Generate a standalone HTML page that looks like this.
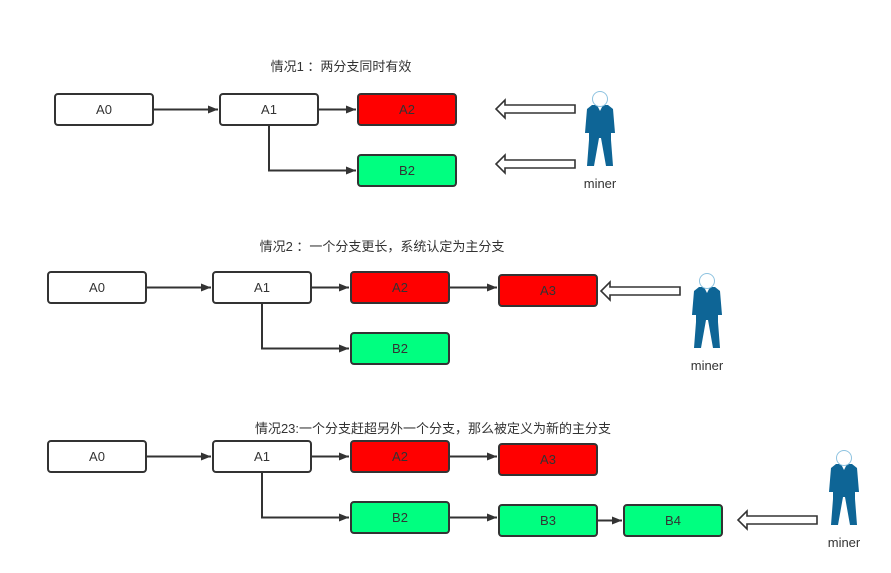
<!DOCTYPE html>
<html><head><meta charset="utf-8"><style>
body{margin:0;background:#fff}
text{font-family:"Liberation Sans","Noto Sans CJK SC",sans-serif;font-size:13px;fill:#333}
</style></head><body>
<svg width="891" height="568" xmlns="http://www.w3.org/2000/svg">
<defs>
<marker id="ar" markerWidth="10" markerHeight="8" refX="10" refY="4" orient="auto" markerUnits="userSpaceOnUse"><path d="M0,0 L10,4 L0,8 Z" fill="#333"/></marker>
<g id="miner"><path d="M-8,0 L-3,0 L0,6 L3,0 L8,0 L13,4 L15,28 L11,28 L11,35 L13,61 L6,61 L1,33 L-1,33 L-6,61 L-13,61 L-11,35 L-11,28 L-15,28 L-13,4 Z" fill="#0e6596"/><circle cx="0" cy="-6" r="7.5" fill="#fff" stroke="#8ec3e0" stroke-width="1"/></g>
<g id="hol"><path d="M0,-4 L-70,-4 L-70,-9 L-79,0 L-70,9 L-70,4 L0,4 Z" fill="#fff" stroke="#333" stroke-width="1.6"/></g>
</defs>
<g stroke="#333" stroke-width="2">
<!-- section 1 -->
<rect x="55" y="94" width="98" height="31" rx="3" fill="#fff"/>
<rect x="220" y="94" width="98" height="31" rx="3" fill="#fff"/>
<rect x="358" y="94" width="98" height="31" rx="3" fill="#ff0000"/>
<rect x="358" y="155" width="98" height="31" rx="3" fill="#00ff80"/>
<!-- section 2 -->
<rect x="48" y="272" width="98" height="31" rx="3" fill="#fff"/>
<rect x="213" y="272" width="98" height="31" rx="3" fill="#fff"/>
<rect x="351" y="272" width="98" height="31" rx="3" fill="#ff0000"/>
<rect x="499" y="275" width="98" height="31" rx="3" fill="#ff0000"/>
<rect x="351" y="333" width="98" height="31" rx="3" fill="#00ff80"/>
<!-- section 3 -->
<rect x="48" y="441" width="98" height="31" rx="3" fill="#fff"/>
<rect x="213" y="441" width="98" height="31" rx="3" fill="#fff"/>
<rect x="351" y="441" width="98" height="31" rx="3" fill="#ff0000"/>
<rect x="499" y="444" width="98" height="31" rx="3" fill="#ff0000"/>
<rect x="351" y="502" width="98" height="31" rx="3" fill="#00ff80"/>
<rect x="499" y="505" width="98" height="31" rx="3" fill="#00ff80"/>
<rect x="624" y="505" width="98" height="31" rx="3" fill="#00ff80"/>
</g>
<g stroke="#333" stroke-width="2" fill="none" marker-end="url(#ar)">
<path d="M153,109.5 H218"/><path d="M318,109.5 H356"/><path d="M269,125 V170.5 H356"/>
<path d="M146,287.5 H211"/><path d="M311,287.5 H349"/><path d="M449,287.5 H497"/><path d="M262,303 V348.5 H349"/>
<path d="M146,456.5 H211"/><path d="M311,456.5 H349"/><path d="M449,456.5 H497"/><path d="M262,472 V517.5 H349"/><path d="M449,517.5 H497"/><path d="M597,520.5 H622"/>
</g>
<use href="#hol" x="575" y="109"/><use href="#hol" x="575" y="164"/>
<use href="#hol" x="680" y="291"/><use href="#hol" x="817" y="520"/>
<use href="#miner" x="600" y="105"/><use href="#miner" x="707" y="287"/><use href="#miner" x="844" y="464"/>
<g text-anchor="middle">
<text x="104" y="114">A0</text><text x="269" y="114">A1</text><text x="407" y="114">A2</text><text x="407" y="175">B2</text>
<text x="97" y="292">A0</text><text x="262" y="292">A1</text><text x="400" y="292">A2</text><text x="548" y="295">A3</text><text x="400" y="353">B2</text>
<text x="97" y="461">A0</text><text x="262" y="461">A1</text><text x="400" y="461">A2</text><text x="548" y="464">A3</text><text x="400" y="522">B2</text><text x="548" y="525">B3</text><text x="673" y="525">B4</text>
<text x="600" y="188">miner</text><text x="707" y="370">miner</text><text x="844" y="547">miner</text>
<text x="341" y="71">情况1 ：两分支同时有效</text>
<text x="382" y="251">情况2 ：一个分支更长，系统认定为主分支</text>
<text x="433" y="433">情况23:一个分支赶超另外一个分支，那么被定义为新的主分支</text>
</g>
</svg>
</body></html>
